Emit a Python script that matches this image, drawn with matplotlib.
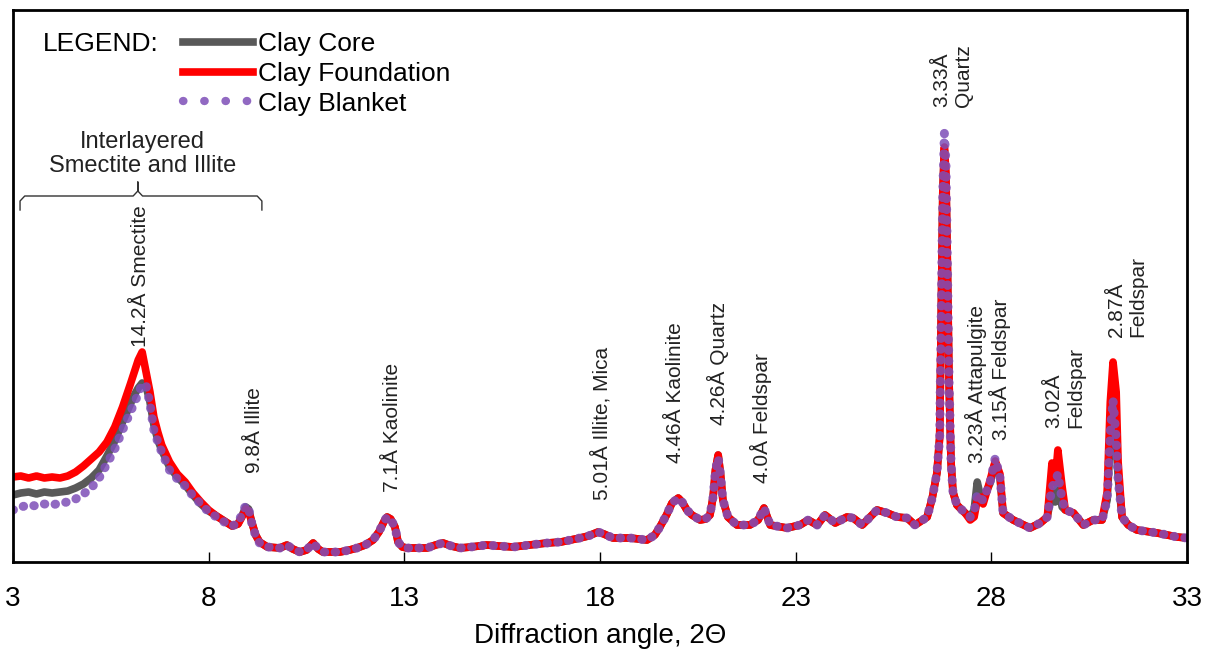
import matplotlib.pyplot as plt
from matplotlib.lines import Line2D

plt.rcParams['font.family'] = ['Liberation Sans', 'DejaVu Sans']

# 2-theta positions (degrees) and intensities (a.u.)
two_theta = [3.0, 3.2, 3.4, 3.6, 3.8, 4.0, 4.2, 4.4, 4.6, 4.8,
             5.0, 5.2, 5.4, 5.6, 5.8, 6.0, 6.1, 6.2, 6.3, 6.4,
             6.5, 6.6, 6.7, 6.8, 7.0, 7.2, 7.4, 7.6, 7.8, 8.0,
             8.2, 8.4, 8.6, 8.75, 8.85, 8.95, 9.02, 9.1, 9.2, 9.3,
             9.5, 9.82, 10.0, 10.15, 10.33, 10.5, 10.67, 10.8, 10.92, 11.1,
             11.36, 11.6, 11.79, 12.0, 12.2, 12.35, 12.5, 12.56, 12.65, 12.76,
             12.84, 12.95, 13.07, 13.3, 13.58, 13.8, 13.99, 14.2, 14.42, 14.7,
             15.11, 15.4, 15.78, 16.2, 16.65, 17.0, 17.49, 17.7, 17.95, 18.1,
             18.33, 18.77, 19.2, 19.4, 19.53, 19.7, 19.84, 20.0, 20.1, 20.22,
             20.35, 20.56, 20.7, 20.81, 20.89, 20.95, 21.02, 21.08, 21.14, 21.27,
             21.5, 21.83, 22.04, 22.19, 22.35, 22.78, 23.11, 23.32, 23.55, 23.75,
             24.01, 24.31, 24.47, 24.7, 25.08, 25.34, 25.59, 25.85, 26.05, 26.36,
             26.49, 26.61, 26.68, 26.72, 26.76, 26.8, 26.84, 26.88, 26.92, 26.97,
             27.02, 27.12, 27.33, 27.46, 27.56, 27.64, 27.72, 27.79, 27.97, 28.1,
             28.22, 28.3, 28.56, 28.99, 29.25, 29.43, 29.55, 29.63, 29.7, 29.81,
             29.89, 30.1, 30.35, 30.6, 30.83, 30.96, 31.04, 31.11, 31.19, 31.24,
             31.34, 31.5, 31.72, 32.24, 32.75, 33.0]

clay_core = [67, 69, 70, 68, 70, 69, 70, 71, 74, 78,
             84, 92, 106, 121, 140, 158, 167, 174, 179, 176,
             160, 137, 122, 112, 95, 85, 77, 67, 58, 51,
             46, 41, 36, 38, 46, 55, 53, 40, 27, 20,
             15, 14, 17, 13, 10, 12, 19, 13, 10, 10,
             10, 12, 14, 17, 22, 30, 42, 45, 43, 35,
             20, 15, 14, 14, 14, 17, 19, 16, 14, 15,
             17, 16, 15, 17, 19, 20, 24, 26, 30, 28,
             24, 24, 22, 27, 35, 47, 59, 64, 60, 52,
             47, 42, 43, 47, 65, 92, 107, 88, 62, 45,
             37, 37, 42, 54, 37, 34, 37, 42, 37, 47,
             39, 45, 44, 37, 52, 49, 45, 44, 37, 45,
             64, 89, 125, 250, 370, 412, 380, 290, 180, 100,
             70, 57, 49, 45, 52, 80, 66, 63, 79, 100,
             85, 49, 42, 34, 39, 45, 70, 60, 78, 55,
             52, 49, 37, 42, 42, 62, 120, 150, 120, 85,
             45, 37, 32, 29, 25, 24]

clay_foundation = [85, 86, 84, 86, 84, 85, 84, 86, 90, 96,
                   103, 110, 120, 135, 155, 178, 190, 202, 210, 190,
                   170, 145, 130, 117, 100, 88, 80, 69, 60, 52,
                   46, 41, 36, 38, 45, 53, 51, 40, 27, 20,
                   15, 14, 17, 13, 10, 12, 19, 13, 10, 10,
                   10, 12, 14, 17, 22, 30, 42, 45, 43, 35,
                   20, 15, 14, 14, 14, 17, 19, 16, 14, 15,
                   17, 16, 15, 17, 19, 20, 24, 26, 30, 28,
                   24, 24, 22, 27, 35, 47, 59, 64, 60, 52,
                   47, 42, 43, 47, 65, 92, 107, 88, 62, 45,
                   37, 37, 42, 54, 37, 34, 37, 42, 37, 47,
                   39, 45, 44, 37, 52, 49, 45, 44, 37, 45,
                   64, 89, 125, 250, 370, 415, 390, 290, 180, 100,
                   70, 57, 49, 42, 45, 62, 65, 58, 82, 101,
                   88, 49, 42, 34, 39, 45, 99, 80, 112, 75,
                   52, 49, 37, 42, 42, 70, 160, 200, 170, 100,
                   45, 37, 32, 29, 25, 24]

clay_blanket = [52, 55, 57, 56, 58, 57, 59, 60, 63, 68,
                74, 84, 98, 113, 132, 150, 159, 168, 178, 177,
                158, 132, 120, 110, 92, 83, 76, 66, 58, 50,
                45, 40, 36, 39, 48, 57, 54, 39, 26, 19,
                15, 14, 17, 13, 10, 12, 19, 13, 10, 10,
                10, 12, 14, 17, 22, 30, 42, 45, 43, 35,
                20, 15, 14, 14, 14, 17, 19, 16, 14, 15,
                17, 16, 15, 17, 19, 20, 24, 26, 30, 28,
                24, 24, 22, 27, 35, 47, 59, 64, 60, 52,
                47, 42, 43, 47, 65, 92, 104, 88, 62, 45,
                37, 37, 42, 54, 37, 34, 37, 42, 37, 47,
                39, 45, 44, 37, 52, 49, 45, 44, 37, 45,
                64, 89, 125, 250, 370, 429, 400, 290, 180, 100,
                70, 57, 49, 45, 50, 68, 63, 62, 80, 104,
                85, 49, 42, 34, 39, 45, 75, 80, 88, 62,
                52, 49, 37, 42, 42, 62, 130, 162, 124, 82,
                45, 37, 32, 29, 25, 24]

# peak labels: text, 2-theta of label centre, intensity at label bottom
peak_labels = ['14.2Å Smectite', '9.8Å Illite', '7.1Å Kaolinite', '5.01Å Illite, Mica',
               '4.46Å Kaolinite', '4.26Å Quartz', '4.0Å Feldspar', '3.33Å\nQuartz',
               '3.23Å Attapulgite', '3.15Å Feldspar', '3.02Å\nFeldspar', '2.87Å\nFeldspar']
label_x = [6.25, 9.18, 12.71, 18.03, 19.92, 21.02, 22.12, 27.02, 27.61, 28.22, 29.88, 31.47]
label_y = [215, 89, 70, 62, 99, 137, 79, 455, 99, 122, 134, 225]

gray = '#595959'
red = '#ff0000'
purple = '#7e4fb8'

fig = plt.figure(figsize=(12.17, 6.5), dpi=100)
ax = fig.add_axes([13 / 1217, 88 / 650, 1174 / 1217, 552 / 650])

ax.plot(two_theta, clay_core, color=gray, lw=5.5, solid_capstyle='round', solid_joinstyle='round')
ax.plot(two_theta, clay_foundation, color=red, lw=5.5, solid_capstyle='round', solid_joinstyle='round')
ax.plot(two_theta, clay_blanket, color=purple, alpha=0.85, lw=6.5,
        linestyle=(0, (0.05, 1.15)), dash_capstyle='round')

ax.set_xlim(3, 33)
ax.set_ylim(0, 552)
ax.set_xticks(range(3, 34, 5))
ax.set_yticks([])
ax.tick_params(axis='x', direction='in', length=7, width=1, labelsize=20, pad=17)
for s in ax.spines.values():
    s.set_linewidth(2)
ax.set_xlabel('Diffraction angle, 2Θ', fontsize=20, labelpad=8)

for txt, x, y in zip(peak_labels, label_x, label_y):
    ax.text(x, y, txt, rotation=90, ha='center', va='bottom', fontsize=15,
            multialignment='left', color='#222222')

# bracket over the interlayered region
ax.text(6.30, 408, 'Interlayered\nSmectite and Illite', ha='center', va='center',
        fontsize=17, linespacing=1.1, color='#222222')
bx = [3.18, 3.18, 3.30, 6.07, 6.19, 6.19, 6.19, 6.31, 9.24, 9.36, 9.36]
by = [352, 361, 366, 366, 371, 380, 371, 366, 366, 361, 352]
ax.plot(bx, by, color='#333333', lw=1)

# legend
handles = [Line2D([], [], color=gray, lw=5.5),
           Line2D([], [], color=red, lw=5.5),
           Line2D([], [], color=purple, alpha=0.85, lw=6,
                  linestyle=(0, (0.05, 2.5)), dash_capstyle='round')]
ax.legend(handles, ['Clay Core', 'Clay Foundation', 'Clay Blanket'],
          loc='upper left', bbox_to_anchor=(183 / 1217, 1 - 32 / 650),
          bbox_transform=fig.transFigure, frameon=False, fontsize=19,
          handlelength=2.65, handletextpad=0.2, labelspacing=0.22,
          borderpad=0, borderaxespad=0)
fig.text(43 / 1217, 1 - 44 / 650, 'LEGEND:', ha='left', va='center', fontsize=19)

fig.savefig('out.png', dpi=100)
